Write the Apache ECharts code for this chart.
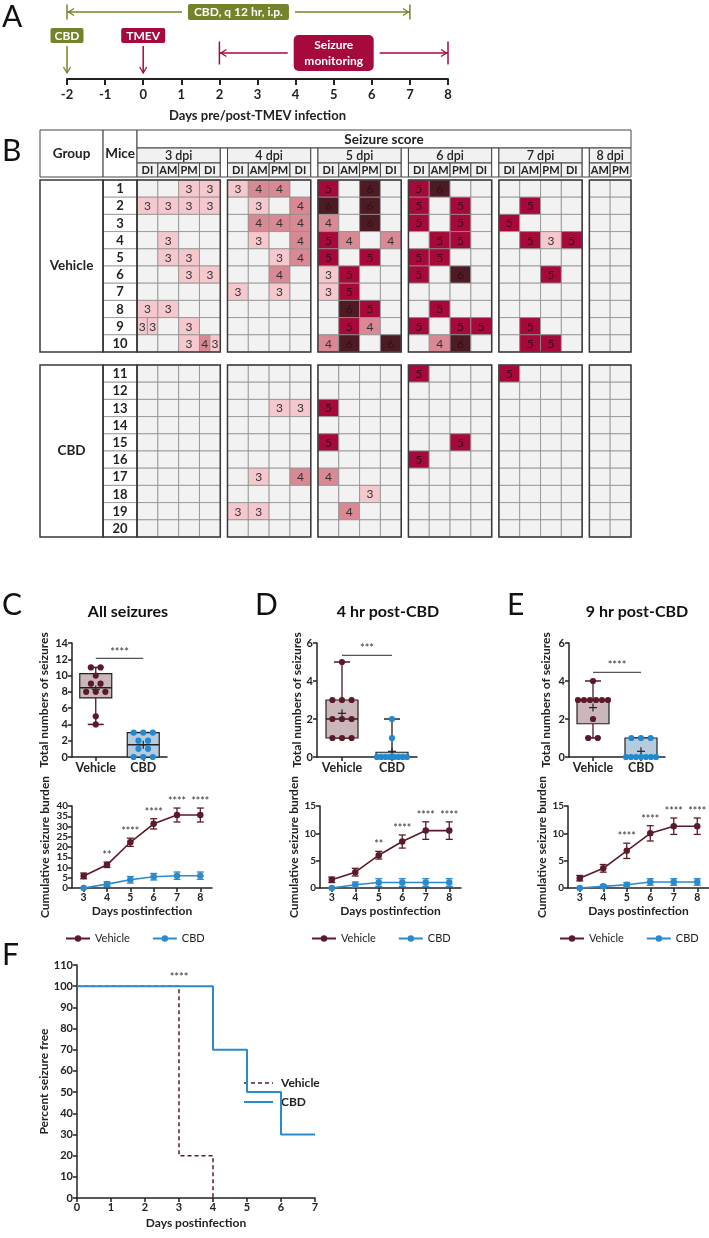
<!DOCTYPE html>
<html><head><meta charset="utf-8">
<script src="https://cdn.jsdelivr.net/npm/echarts@6/dist/echarts.min.js"></script>
<style>html,body{margin:0;padding:0;background:#fff}#c{width:709px;height:1238px}</style>
</head><body><div id="c"></div>
<script>
// ================= DATA =================
// Panel A timeline
const rangeLabels = ['CBD, q 12 hr, i.p.', 'Seizure\nmonitoring'];
const rangeStarts = [-2, 2];
const rangeEnds = [7, 8];
const eventLabels = ['CBD', 'TMEV'];
const eventDays = [-2, 0];

// Panel B seizure score table
const dpiBlocks = ['3 dpi', '4 dpi', '5 dpi', '6 dpi', '7 dpi', '8 dpi'];
const blockSlots = [['DI','AM','PM','DI'],['DI','AM','PM','DI'],['DI','AM','PM','DI'],['DI','AM','PM','DI'],['DI','AM','PM','DI'],['AM','PM']];
const groupNames = ['Vehicle', 'CBD'];
const vehicleMice = [1,2,3,4,5,6,7,8,9,10];
const cbdMice = [11,12,13,14,15,16,17,18,19,20];
// 0 = no seizure; [a,b] = two seizures in one slot
const vehicleScores = [
  [[0,0,3,3],[3,4,4,0],[5,0,6,0],[5,6,0,0],[0,0,0,0],[0,0]],
  [[3,3,3,3],[0,3,0,4],[6,0,6,0],[5,0,5,0],[0,5,0,0],[0,0]],
  [[0,0,0,0],[0,4,4,4],[4,0,6,0],[5,0,5,0],[5,0,0,0],[0,0]],
  [[0,3,0,0],[0,3,0,4],[5,4,0,4],[0,5,5,0],[0,5,3,5],[0,0]],
  [[0,3,3,0],[0,0,3,4],[5,0,5,0],[5,5,0,0],[0,0,0,0],[0,0]],
  [[0,0,3,3],[0,0,4,0],[3,5,0,0],[5,0,6,0],[0,0,5,0],[0,0]],
  [[0,0,0,0],[3,0,3,0],[3,5,0,0],[0,0,0,0],[0,0,0,0],[0,0]],
  [[3,3,0,0],[0,0,0,0],[0,6,5,0],[0,5,0,0],[0,0,0,0],[0,0]],
  [[[3,3],0,3,0],[0,0,0,0],[0,5,4,0],[5,0,5,5],[0,5,0,0],[0,0]],
  [[0,0,3,[4,3]],[0,0,0,0],[4,6,0,6],[0,4,6,0],[0,5,5,0],[0,0]]
];
const cbdScores = [
  [[0,0,0,0],[0,0,0,0],[0,0,0,0],[5,0,0,0],[5,0,0,0],[0,0]],
  [[0,0,0,0],[0,0,0,0],[0,0,0,0],[0,0,0,0],[0,0,0,0],[0,0]],
  [[0,0,0,0],[0,0,3,3],[5,0,0,0],[0,0,0,0],[0,0,0,0],[0,0]],
  [[0,0,0,0],[0,0,0,0],[0,0,0,0],[0,0,0,0],[0,0,0,0],[0,0]],
  [[0,0,0,0],[0,0,0,0],[5,0,0,0],[0,0,5,0],[0,0,0,0],[0,0]],
  [[0,0,0,0],[0,0,0,0],[0,0,0,0],[5,0,0,0],[0,0,0,0],[0,0]],
  [[0,0,0,0],[0,3,0,4],[4,0,0,0],[0,0,0,0],[0,0,0,0],[0,0]],
  [[0,0,0,0],[0,0,0,0],[0,0,3,0],[0,0,0,0],[0,0,0,0],[0,0]],
  [[0,0,0,0],[3,3,0,0],[0,4,0,0],[0,0,0,0],[0,0,0,0],[0,0]],
  [[0,0,0,0],[0,0,0,0],[0,0,0,0],[0,0,0,0],[0,0,0,0],[0,0]]
];

// Panels C-E: box plots (per-mouse totals) and box stats [min, q1, median, q3, max, mean]
const boxGroups = ['Vehicle', 'CBD'];
const allVehicle = [11,11,10,9,9,8,8,8,5,4];
const allCbd = [3,3,3,2,2,1,1,0,0,0];
const post4Vehicle = [5,3,3,3,2,2,2,1,1,1];
const post4Cbd = [2,1,0,0,0,0,0,0,0,0];
const post9Vehicle = [4,3,3,3,3,3,3,2,1,1];
const post9Cbd = [1,1,1,0,0,0,0,0,0,0];
const allBox = [[4,7.25,8.5,10.25,11,8.3],[0,0,1.5,3,3,1.5]];
const post4Box = [[1,1,2,3,5,2.3],[0,0,0,0.25,2,0.3]];
const post9Box = [[1,1.75,3,3,4,2.6],[0,0,0,1,1,0.3]];
const boxSigLevel = [12.1, 5.35, 4.45];
const boxSigText = ['****', '***', '****'];
const boxTitles = ['All seizures', '4 hr post-CBD', '9 hr post-CBD'];

// Cumulative seizure burden (mean, SEM)
const days = ['3','4','5','6','7','8'];
const allVehMean = [5.9, 11.3, 22.3, 31.3, 35.6, 35.6];
const allVehErr = [1.4, 1.3, 2.0, 2.5, 3.4, 3.4];
const allCbdMean = [0, 1.9, 4.0, 5.5, 6.0, 6.0];
const allCbdErr = [0, 1.1, 1.6, 1.6, 1.8, 1.8];
const allStars = ['', '**', '****', '****', '****', '****'];
const p4VehMean = [1.5, 2.9, 6.0, 8.5, 10.5, 10.5];
const p4VehErr = [0.5, 0.7, 0.7, 1.2, 1.6, 1.6];
const p4CbdMean = [0, 0.6, 1.0, 1.0, 1.0, 1.0];
const p4CbdErr = [0, 0.5, 0.7, 0.7, 0.7, 0.7];
const p4Stars = ['', '', '**', '****', '****', '****'];
const p9VehMean = [1.8, 3.6, 6.8, 10.0, 11.3, 11.3];
const p9VehErr = [0.5, 0.7, 1.4, 1.4, 1.5, 1.5];
const p9CbdMean = [0, 0.3, 0.6, 1.1, 1.1, 1.1];
const p9CbdErr = [0, 0.3, 0.4, 0.6, 0.6, 0.6];
const p9Stars = ['', '', '****', '****', '****', '****'];

// Panel F: Kaplan-Meier, percent seizure free
const vehSurvTime = [0, 3, 4];
const vehSurvPct = [100, 20, 0];
const cbdSurvTime = [0, 4, 5, 6, 7];
const cbdSurvPct = [100, 70, 50, 30, 30];
const survStarDay = 3, survStarLevel = 100, survStarText = '****';
const survLegend = ['Vehicle', 'CBD'];

// ================= STYLE / LAYOUT =================
const FONT = 'Lato, "Open Sans", sans-serif';
const GREEN = '#74842a', CRIMSON = '#a6093b';
const VEH = '#5b1a2a', CBDC = '#2a8acc';
const INK = '#222';
const SCORE_COLORS = {0:'#f2f2f2', 3:'#f4c8cd', 4:'#d98993', 5:'#a6093a', 6:'#4c1b24'};
const PITCH = 4.345;
const CBD_ROW0 = 10.756;
const X_GROUP0 = -4.66, X_MICE0 = -1.63;
const Y_HEAD0 = -2.907, Y_DPI0 = -1.86, Y_SUB0 = -0.988, Y_SUB1 = -0.174;
const blockX = b => b * PITCH;
const rowY0 = g => g === 0 ? 0 : CBD_ROW0;

const chart = echarts.init(document.getElementById('c'), null, {renderer: 'canvas', width: 709, height: 1238});

// ---------- helpers ----------
function txt(text, x, y, o) {
  return {type: 'text', style: Object.assign({text: String(text), x, y, textAlign: 'center', textVerticalAlign: 'middle',
    fill: INK, fontSize: 12, fontFamily: FONT}, o || {})};
}
function ln(x1, y1, x2, y2, stroke, w) {
  return {type: 'line', shape: {x1, y1, x2, y2}, style: {stroke, lineWidth: w || 1.5}};
}
function valueAxis(grid, min, max, interval, name, nameGap, labelSize, extra) {
  return Object.assign({type: 'value', gridIndex: grid, min, max, interval, name, nameLocation: 'middle', nameGap,
    nameTextStyle: {fontFamily: FONT, fontWeight: 'bold', fontSize: 12, color: INK},
    axisLine: {show: true, lineStyle: {color: INK, width: 1.5}},
    axisTick: {show: true, length: 4, lineStyle: {color: INK, width: 1.5}},
    axisLabel: {fontFamily: FONT, fontWeight: 'bold', fontSize: labelSize || 11.5, color: INK, margin: 4},
    splitLine: {show: false}}, extra || {});
}
function catAxis(grid, data, name, nameGap, fontSize) {
  return {type: 'category', gridIndex: grid, data, boundaryGap: true, name, nameLocation: 'middle', nameGap,
    nameTextStyle: {fontFamily: FONT, fontWeight: 'bold', fontSize: 12, color: INK},
    axisLine: {show: true, lineStyle: {color: INK, width: 1.5}},
    axisTick: {show: true, alignWithLabel: true, interval: 0, length: 4, lineStyle: {color: INK, width: 1.5}},
    axisLabel: {interval: 0, fontFamily: FONT, fontWeight: 'bold', fontSize: fontSize || 11, color: INK, margin: 4},
    splitLine: {show: false}};
}
function hiddenAxis(grid, min, max, inverse) {
  return {type: 'value', gridIndex: grid, min, max, inverse: !!inverse, show: false, splitLine: {show: false}};
}

// ---------- Panel A renderers ----------
const RANGE_LAYOUT = [{y: 12, tick: 7.5, boxW: 101, boxH: 16, r: 2, color: GREEN},
                      {y: 53, tick: 11.5, boxW: 80, boxH: 36, r: 5, color: CRIMSON}];
const EVENT_LAYOUT = [{w: 33, color: GREEN}, {w: 44, color: CRIMSON}];
function renderRange(params, api) {
  const i = api.value(2), L = RANGE_LAYOUT[i];
  const xa = api.coord([api.value(0), 0])[0], xb = api.coord([api.value(1), 0])[0];
  const y = params.coordSys.y + L.y, cx = (xa + xb) / 2, c = L.color;
  const ch = [ln(xa, y, xb, y, c, 1.5), ln(xa, y - L.tick, xa, y + L.tick, c, 1.5), ln(xb, y - L.tick, xb, y + L.tick, c, 1.5),
    {type: 'polyline', shape: {points: [[xa + 7, y - 3.5], [xa + 1.5, y], [xa + 7, y + 3.5]]}, style: {stroke: c, fill: 'none', lineWidth: 1.3}},
    {type: 'polyline', shape: {points: [[xb - 7, y - 3.5], [xb - 1.5, y], [xb - 7, y + 3.5]]}, style: {stroke: c, fill: 'none', lineWidth: 1.3}},
    {type: 'rect', shape: {x: cx - L.boxW / 2 - 6, y: y - L.boxH / 2, width: L.boxW + 12, height: L.boxH}, style: {fill: '#fff'}},
    {type: 'rect', shape: {x: cx - L.boxW / 2, y: y - L.boxH / 2, width: L.boxW, height: L.boxH, r: L.r}, style: {fill: c}},
    txt(rangeLabels[i], cx, y + 0.5, {fill: '#fff', fontWeight: 'bold', fontSize: 12, lineHeight: 16})];
  return {type: 'group', children: ch};
}
function renderEvent(params, api) {
  const i = api.value(1), L = EVENT_LAYOUT[i];
  const x = api.coord([api.value(0), 0])[0], top = params.coordSys.y;
  return {type: 'group', children: [
    {type: 'rect', shape: {x: x - L.w / 2, y: top + 28, width: L.w, height: 15, r: 2}, style: {fill: L.color}},
    txt(eventLabels[i], x, top + 36, {fill: '#fff', fontWeight: 'bold', fontSize: 12}),
    ln(x, top + 46, x, top + 73, L.color, 1.5),
    {type: 'polyline', shape: {points: [[x - 3.5, top + 67], [x, top + 73], [x + 3.5, top + 67]]}, style: {stroke: L.color, fill: 'none', lineWidth: 1.3}}
  ]};
}

// ---------- Panel B data items ----------
const cellData = [];
[vehicleScores, cbdScores].forEach((set, g) => set.forEach((row, m) => row.forEach((blk, b) => blk.forEach((v, s) => {
  const split = Array.isArray(v);
  cellData.push([blockX(b) + s, rowY0(g) + m, split ? v[0] : v, split ? v[1] : -1]);
}))));
function renderCell(params, api) {
  const x = api.value(0), y = api.value(1), v1 = api.value(2), v2 = api.value(3);
  const p0 = api.coord([x, y]), p1 = api.coord([x + 1, y + 1]);
  const w = p1[0] - p0[0], h = p1[1] - p0[1];
  const parts = v2 < 0 ? [[v1, p0[0], w]] : [[v1, p0[0], w / 2], [v2, p0[0] + w / 2, w / 2]];
  const ch = [];
  parts.forEach(([v, px, pw]) => {
    ch.push({type: 'rect', shape: {x: px, y: p0[1], width: pw, height: h}, style: {fill: SCORE_COLORS[v], stroke: '#8e8e8e', lineWidth: 0.8}});
    if (v > 0) ch.push(txt(v, px + pw / 2, p0[1] + h / 2 + 0.5, {fontSize: 12, fill: v >= 5 ? '#3a0c16' : '#333'}));
  });
  return {type: 'group', children: ch};
}
const outlineData = [];
[0, 1].forEach(g => {
  const y0 = rowY0(g);
  outlineData.push([X_GROUP0, y0, X_MICE0, y0 + 10]);
  outlineData.push([X_MICE0, y0, 0, y0 + 10]);
  dpiBlocks.forEach((d, b) => outlineData.push([blockX(b), y0, blockX(b) + blockSlots[b].length, y0 + 10]));
});
function renderOutline(params, api) {
  const p0 = api.coord([api.value(0), api.value(1)]), p1 = api.coord([api.value(2), api.value(3)]);
  return {type: 'rect', shape: {x: p0[0], y: p0[1], width: p1[0] - p0[0], height: p1[1] - p0[1]}, style: {fill: 'none', stroke: '#3a3a3a', lineWidth: 1.5}};
}
const miceData = [];
[vehicleMice, cbdMice].forEach((list, g) => list.forEach((m, k) => miceData.push([rowY0(g) + k, m])));
function renderMouse(params, api) {
  const y = api.value(0);
  const p0 = api.coord([X_MICE0, y]), p1 = api.coord([0, y + 1]);
  return {type: 'group', children: [
    {type: 'rect', shape: {x: p0[0], y: p0[1], width: p1[0] - p0[0], height: p1[1] - p0[1]}, style: {fill: '#fff', stroke: '#8e8e8e', lineWidth: 0.8}},
    txt(api.value(1), (p0[0] + p1[0]) / 2, (p0[1] + p1[1]) / 2 + 0.5, {fontWeight: 'bold', fontSize: 13, fill: '#222'})]};
}
const groupData = groupNames.map((n, g) => [rowY0(g), g]);
function renderGroup(params, api) {
  const y = api.value(0);
  const p0 = api.coord([X_GROUP0, y]), p1 = api.coord([X_MICE0, y + 10]);
  return txt(groupNames[api.value(1)], (p0[0] + p1[0]) / 2, (p0[1] + p1[1]) / 2, {fontWeight: 'bold', fontSize: 13.5, fill: '#222'});
}
const headerCells = [];
headerCells.push({r: [X_GROUP0, Y_HEAD0, X_MICE0, Y_SUB1], t: 'Group', f: '#fff', s: 13.5});
headerCells.push({r: [X_MICE0, Y_HEAD0, 0, Y_SUB1], t: 'Mice', f: '#fff', s: 13.5});
headerCells.push({r: [0, Y_HEAD0, blockX(5) + 2, Y_DPI0], t: 'Seizure score', f: '#fff', s: 13.5});
dpiBlocks.forEach((d, b) => {
  const n = blockSlots[b].length;
  headerCells.push({r: [blockX(b), Y_DPI0, blockX(b) + n, Y_SUB0], t: d, f: '#f1f1f1', s: 12.5, w: '600'});
  blockSlots[b].forEach((sl, s) => headerCells.push({r: [blockX(b) + s, Y_SUB0, blockX(b) + s + 1, Y_SUB1], t: sl, f: '#f1f1f1', s: 11}));
  if (b < dpiBlocks.length - 1) headerCells.push({r: [blockX(b) + n, Y_DPI0, blockX(b + 1), Y_SUB1], t: '', f: '#fff', s: 10});
});
function renderHeader(params, api) {
  const c = headerCells[api.value(4)];
  const p0 = api.coord([api.value(0), api.value(1)]), p1 = api.coord([api.value(2), api.value(3)]);
  const ch = [{type: 'rect', shape: {x: p0[0], y: p0[1], width: p1[0] - p0[0], height: p1[1] - p0[1]}, style: {fill: c.f, stroke: '#444', lineWidth: 1}}];
  if (c.t) ch.push(txt(c.t, (p0[0] + p1[0]) / 2, (p0[1] + p1[1]) / 2 + 0.5, {fontWeight: c.w || 'bold', fontSize: c.s, fill: '#222'}));
  return {type: 'group', children: ch};
}

// ---------- Box plot renderers ----------
const BOX_FILL = ['#cbb7ba', '#b6cbdd'];
const WHISK = ['#4a1a25', '#222'];
const DOT = [VEH, '#2089cf'];
function renderBox(params, api) {
  const cat = api.value(0);
  const mn = api.value(1), q1 = api.value(2), md = api.value(3), q3 = api.value(4), mx = api.value(5), mean = api.value(6);
  const cx = api.coord([cat, md])[0];
  const Y = v => api.coord([cat, v])[1];
  const hw = 16, cap = 8;
  return {type: 'group', children: [
    ln(cx, Y(q3), cx, Y(mx), WHISK[cat], 1.3), ln(cx - cap, Y(mx), cx + cap, Y(mx), WHISK[cat], 1.5),
    ln(cx, Y(q1), cx, Y(mn), WHISK[cat], 1.3), ln(cx - cap, Y(mn), cx + cap, Y(mn), WHISK[cat], 1.5),
    {type: 'rect', shape: {x: cx - hw, y: Y(q3), width: 2 * hw, height: Y(q1) - Y(q3)}, style: {fill: BOX_FILL[cat], stroke: '#222', lineWidth: 1.2}},
    ln(cx - hw, Y(md), cx + hw, Y(md), '#222', 1.5),
    ln(cx - 4, Y(mean), cx + 4, Y(mean), '#222', 1.2), ln(cx, Y(mean) - 4, cx, Y(mean) + 4, '#222', 1.2)
  ]};
}
function scatterItems(values, cat) {
  const counts = {}, seen = {};
  values.forEach(v => counts[v] = (counts[v] || 0) + 1);
  return values.map(v => { seen[v] = seen[v] === undefined ? 0 : seen[v] + 1; return [cat, v, seen[v], counts[v]]; });
}
function renderDot(params, api) {
  const cat = api.value(0), k = api.value(2), n = api.value(3);
  const p = api.coord([cat, api.value(1)]);
  const sp = n > 1 ? Math.min(9.6, 30 / (n - 1)) : 0;
  return {type: 'circle', shape: {cx: p[0] + (k - (n - 1) / 2) * sp, cy: p[1], r: 3.1}, style: {fill: DOT[cat]}};
}
function renderSig(params, api) {
  const a = api.coord([0, api.value(1)]), b = api.coord([1, api.value(1)]);
  return {type: 'group', children: [ln(a[0], a[1], b[0], b[1], '#555', 1.3),
    txt(boxSigText[api.value(2)], (a[0] + b[0]) / 2, a[1] - 1, {textVerticalAlign: 'bottom', fontSize: 11, fill: '#333'})]};
}

// ---------- Line chart renderers ----------
function makeErr(color) {
  return function (params, api) {
    const i = api.value(0), m = api.value(1), e = api.value(2);
    if (e <= 0) return null;
    const t = api.coord([i, m + e]), b = api.coord([i, m - e]);
    return {type: 'group', children: [ln(t[0], t[1], b[0], b[1], color, 1.3), ln(t[0] - 3.5, t[1], t[0] + 3.5, t[1], color, 1.3), ln(b[0] - 3.5, b[1], b[0] + 3.5, b[1], color, 1.3)]};
  };
}
function makeStars(list) {
  return function (params, api) {
    const s = list[api.value(0)];
    if (!s) return null;
    const p = api.coord([api.value(0), api.value(1)]);
    return txt(s, p[0], p[1] - 1, {textVerticalAlign: 'bottom', fontSize: 10.5, fill: '#333'});
  };
}

// ================= OPTION =================
const grids = [
  {left: 67, top: 0, width: 381, height: 79},      // 0 A
  {left: 40, top: 130, width: 591, height: 407},   // 1 B
  {left: 72, top: 643, width: 95, height: 114},    // 2 C box
  {left: 317, top: 643, width: 100, height: 114},  // 3 D box
  {left: 569, top: 643, width: 96, height: 114},   // 4 E box
  {left: 72, top: 806, width: 140, height: 82},    // 5 C line
  {left: 320, top: 806, width: 141, height: 82},   // 6 D line
  {left: 568, top: 806, width: 141, height: 82},   // 7 E line
  {left: 77, top: 965, width: 238, height: 233}    // 8 F
];
const xAxes = [
  valueAxis(0, -2, 8, 1, 'Days pre/post-TMEV infection', 30, 13, {
    axisLine: {show: true, lineStyle: {color: INK, width: 2}},
    axisTick: {show: true, length: 6, lineStyle: {color: INK, width: 2}},
    axisLabel: {fontFamily: FONT, fontWeight: 'bold', fontSize: 13, color: INK, margin: 9},
    nameTextStyle: {fontFamily: FONT, fontWeight: 'bold', fontSize: 13, color: INK}}),
  hiddenAxis(1, X_GROUP0, blockX(5) + 2),
  catAxis(2, boxGroups, '', 0, 12.5), catAxis(3, boxGroups, '', 0, 12.5), catAxis(4, boxGroups, '', 0, 12.5),
  catAxis(5, days, 'Days postinfection', 17, 10.5), catAxis(6, days, 'Days postinfection', 17, 10.5), catAxis(7, days, 'Days postinfection', 17, 10.5),
  valueAxis(8, 0, 7, 1, 'Days postinfection', 19, 11)
];
const yAxes = [
  hiddenAxis(0, 0, 1),
  hiddenAxis(1, Y_HEAD0, CBD_ROW0 + 10, true),
  valueAxis(2, 0, 14, 2, 'Total numbers of seizures', 22, 11),
  valueAxis(3, 0, 6, 2, 'Total numbers of seizures', 12, 11),
  valueAxis(4, 0, 6, 2, 'Total numbers of seizures', 17, 11),
  valueAxis(5, 0, 40, 5, 'Cumulative seizure burden', 21, 10),
  valueAxis(6, 0, 15, 5, 'Cumulative seizure burden', 15, 10),
  valueAxis(7, 0, 15, 5, 'Cumulative seizure burden', 20, 10),
  valueAxis(8, 0, 110, 10, 'Percent seizure free', 26, 11)
];

const series = [];
const onGrid = i => ({coordinateSystem: 'cartesian2d', xAxisIndex: i, yAxisIndex: i, clip: false, silent: true});
// A
series.push(Object.assign({type: 'custom', renderItem: renderRange, data: rangeStarts.map((s, i) => [s, rangeEnds[i], i])}, onGrid(0)));
series.push(Object.assign({type: 'custom', renderItem: renderEvent, data: eventDays.map((d, i) => [d, i])}, onGrid(0)));
// B
series.push(Object.assign({type: 'custom', renderItem: renderHeader, data: headerCells.map((c, i) => [c.r[0], c.r[1], c.r[2], c.r[3], i])}, onGrid(1)));
series.push(Object.assign({type: 'custom', renderItem: renderCell, data: cellData}, onGrid(1)));
series.push(Object.assign({type: 'custom', renderItem: renderMouse, data: miceData}, onGrid(1)));
series.push(Object.assign({type: 'custom', renderItem: renderGroup, data: groupData}, onGrid(1)));
series.push(Object.assign({type: 'custom', renderItem: renderOutline, data: outlineData}, onGrid(1)));
// C-E boxes
[[allBox, allVehicle, allCbd], [post4Box, post4Vehicle, post4Cbd], [post9Box, post9Vehicle, post9Cbd]].forEach(([box, veh, cbd], p) => {
  const gi = 2 + p;
  series.push(Object.assign({type: 'custom', renderItem: renderBox, data: box.map((b, c) => [c].concat(b))}, onGrid(gi)));
  series.push(Object.assign({type: 'custom', renderItem: renderDot, data: scatterItems(veh, 0).concat(scatterItems(cbd, 1))}, onGrid(gi)));
  series.push(Object.assign({type: 'custom', renderItem: renderSig, data: [[0, boxSigLevel[p], p]]}, onGrid(gi)));
});
// C-E lines
[[allVehMean, allVehErr, allCbdMean, allCbdErr, allStars], [p4VehMean, p4VehErr, p4CbdMean, p4CbdErr, p4Stars],
 [p9VehMean, p9VehErr, p9CbdMean, p9CbdErr, p9Stars]].forEach(([vm, ve, cm, ce, st], p) => {
  const gi = 5 + p;
  series.push(Object.assign({type: 'custom', renderItem: makeErr(CBDC), data: cm.map((m, i) => [i, m, ce[i]])}, onGrid(gi)));
  series.push(Object.assign({type: 'line', name: 'CBD', data: cm, symbol: 'circle', symbolSize: 6.5, itemStyle: {color: CBDC}, lineStyle: {color: CBDC, width: 1.6}}, onGrid(gi)));
  series.push(Object.assign({type: 'custom', renderItem: makeErr(VEH), data: vm.map((m, i) => [i, m, ve[i]])}, onGrid(gi)));
  series.push(Object.assign({type: 'line', name: 'Vehicle', data: vm, symbol: 'circle', symbolSize: 6.5, itemStyle: {color: VEH}, lineStyle: {color: VEH, width: 1.6}}, onGrid(gi)));
  series.push(Object.assign({type: 'custom', renderItem: makeStars(st), data: vm.map((m, i) => [i, m + ve[i]])}, onGrid(gi)));
});
// F
series.push(Object.assign({type: 'line', name: 'Vehicle ', step: 'end', symbol: 'none', data: vehSurvTime.map((t, i) => [t, vehSurvPct[i]]),
  lineStyle: {color: VEH, width: 1.5, type: [4, 3]}, itemStyle: {color: VEH}}, onGrid(8)));
series.push(Object.assign({type: 'line', name: 'CBD ', step: 'end', symbol: 'none', data: cbdSurvTime.map((t, i) => [t, cbdSurvPct[i]]),
  lineStyle: {color: CBDC, width: 2}, itemStyle: {color: CBDC}}, onGrid(8)));
series.push(Object.assign({type: 'custom', data: [[survStarDay, survStarLevel]], renderItem: (params, api) => {
  const p = api.coord([api.value(0), api.value(1)]);
  return txt(survStarText, p[0], p[1] - 3, {textVerticalAlign: 'bottom', fontSize: 11, fill: '#333'});
}}, onGrid(8)));

const legendText = {fontFamily: FONT, fontSize: 11, color: '#222'};
const legends = [60, 306, 554].map(left => ({data: ['Vehicle', 'CBD'], left, top: 928, itemWidth: 24, itemHeight: 8, itemGap: 22,
  textStyle: legendText, selectedMode: false}));

const letter = (t, x, y) => ({type: 'text', x, y, style: {text: t, fontSize: 30, fontFamily: FONT, fill: '#111', textVerticalAlign: 'top'}});
const titleText = (t, x, y) => ({type: 'text', x, y, style: {text: t, fontSize: 16, fontWeight: 'bold', fontFamily: FONT, fill: '#111', textAlign: 'center', textVerticalAlign: 'middle'}});
const fLegend = [
  {type: 'line', shape: {x1: 244, y1: 1083, x2: 273, y2: 1083}, style: {stroke: VEH, lineWidth: 1.5, lineDash: [4, 3]}},
  {type: 'text', x: 281, y: 1083, style: {text: survLegend[0], fontSize: 12, fontWeight: 'bold', fontFamily: FONT, fill: '#222', textVerticalAlign: 'middle'}},
  {type: 'line', shape: {x1: 244, y1: 1102, x2: 273, y2: 1102}, style: {stroke: CBDC, lineWidth: 2}},
  {type: 'text', x: 281, y: 1102, style: {text: survLegend[1], fontSize: 12, fontWeight: 'bold', fontFamily: FONT, fill: '#222', textVerticalAlign: 'middle'}}
];

chart.setOption({
  animation: false,
  backgroundColor: '#fff',
  grid: grids,
  xAxis: xAxes,
  yAxis: yAxes,
  legend: legends,
  series,
  graphic: [
    letter('A', 2, 2), letter('B', 2, 136), letter('C', 2, 590), letter('D', 255, 590), letter('E', 507, 590), letter('F', 2, 940),
    titleText(boxTitles[0], 128, 612), titleText(boxTitles[1], 388, 612), titleText(boxTitles[2], 637, 612)
  ].concat(fLegend)
});
</script></body></html>
